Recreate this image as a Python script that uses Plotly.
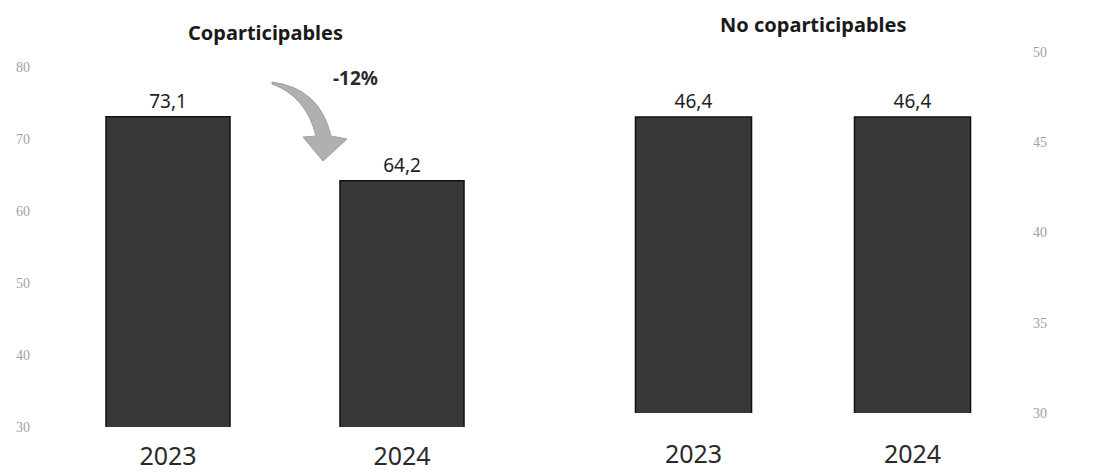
import plotly.graph_objects as go
from plotly.subplots import make_subplots

# page body has an 8px margin, so the figure starts at (8, 8)
OFF = 8
W, H = 1099 - OFF, 474 - OFF

years = ["2023", "2024"]
copart = [73.1, 64.2]
no_copart = [46.4, 46.4]
left_ticks = [30, 40, 50, 60, 70, 80]
right_ticks = [30, 35, 40, 45, 50]
change_label = "-12%"

BAR = "#383838"


def px(x, y):
    # screen pixel position -> paper fraction
    return (x - OFF) / W, 1 - (y - OFF) / H


def p(x, y):
    a, b = px(x, y)
    return f"{a:.5f},{b:.5f}"


def xdom(a, b):
    return [px(a, 0)[0], px(b, 0)[0]]


def ydom(top, bottom):
    return [px(0, bottom)[1], px(0, top)[1]]


fig = make_subplots(rows=1, cols=2)

fig.add_trace(go.Bar(x=years, y=copart, marker=dict(color=BAR, line=dict(color="#111", width=1.5)),
                     texttemplate="%{y:.1f}", textposition="outside", cliponaxis=False,
                     textfont=dict(size=19, color="#222", family="Noto Sans")), row=1, col=1)
fig.add_trace(go.Bar(x=years, y=no_copart, marker=dict(color=BAR, line=dict(color="#111", width=1.5)),
                     texttemplate="%{y:.1f}", textposition="outside", cliponaxis=False,
                     textfont=dict(size=19, color="#222", family="Noto Sans")), row=1, col=2)

tickfont = dict(size=14, color="#a0a0a0", family="Liberation Serif")
xfont = dict(size=25, color="#2a2a2a", family="Noto Sans")

fig.update_layout(
    width=W, height=H, margin=dict(l=0, r=0, t=0, b=0, autoexpand=False),
    paper_bgcolor="white", plot_bgcolor="white",
    showlegend=False, separators=",.", bargap=0.47,
    xaxis=dict(domain=xdom(51, 519), showgrid=False, showline=False, ticks="",
               tickfont=xfont, ticklabelstandoff=12, automargin=False),
    yaxis=dict(domain=ydom(67, 427), range=[30, 80], tickvals=left_ticks,
               showgrid=False, zeroline=False, tickfont=tickfont, ticklabelstandoff=20,
               automargin=False),
    xaxis2=dict(domain=xdom(584, 1022), showgrid=False, showline=False, ticks="",
                tickfont=xfont, ticklabelstandoff=24, automargin=False),
    yaxis2=dict(domain=ydom(52, 413), range=[30, 50], tickvals=right_ticks,
                side="right", showgrid=False, zeroline=False, tickfont=tickfont,
                ticklabelstandoff=10, automargin=False),
)

# panel titles
for txt, (x, y) in [("Coparticipables", (265, 33)), ("No coparticipables", (813, 24))]:
    ax, ay = px(x, y)
    fig.add_annotation(x=ax, y=ay, xref="paper", yref="paper", text="<b>" + txt + "</b>",
                       xanchor="center", yanchor="middle", showarrow=False,
                       font=dict(size=20, color="#1a1a1a", family="Noto Sans"))

# curved arrow
path = ("M " + p(272, 82) + " Q " + p(320, 88) + " " + p(331, 136) +
        " L " + p(347, 139) + " L " + p(323, 161) + " L " + p(303, 137) +
        " L " + p(316, 136) + " Q " + p(306, 96) + " " + p(272, 84) + " Z")
fig.add_shape(type="path", path=path, xref="paper", yref="paper",
              fillcolor="#b0b0b0", line=dict(color="#a0a0a0", width=1))
lx, ly = px(355, 78)
fig.add_annotation(x=lx, y=ly, xref="paper", yref="paper", text="<b>" + change_label + "</b>",
                   xanchor="center", yanchor="middle", showarrow=False,
                   font=dict(size=19, color="#2a2a2a", family="Noto Sans"))

fig.write_html("out.html")
